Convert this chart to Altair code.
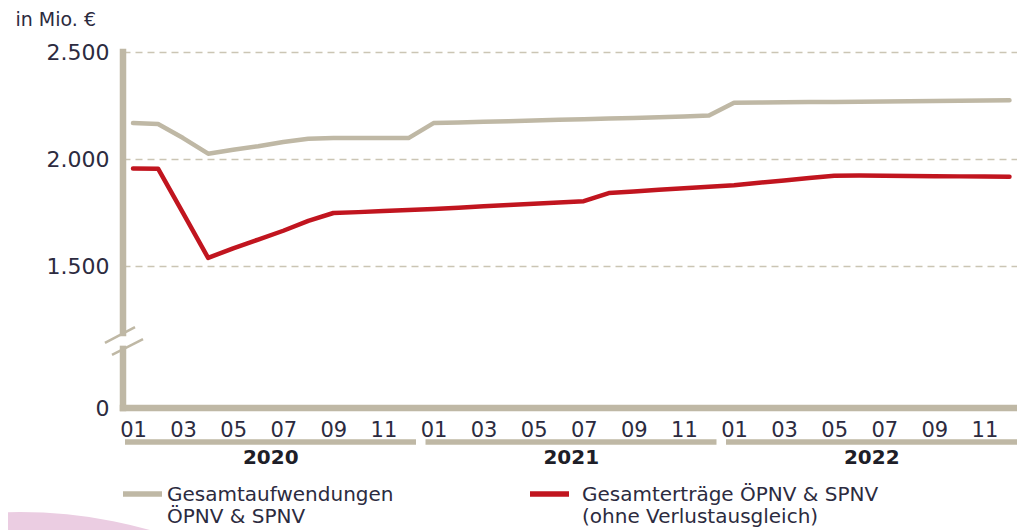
import altair as alt
import pandas as pd

# ---------------- data ----------------
years = ["2020", "2021", "2022"]
month_labels = ["01", "02", "03", "04", "05", "06", "07", "08", "09", "10", "11", "12"]

# Gesamtaufwendungen ÖPNV & SPNV (Mio. €), monthly 2020-01 .. 2022-12
aufwendungen = [
    2168, 2164, 2098, 2025, 2043, 2060, 2080, 2095, 2098, 2098, 2098, 2098,
    2168, 2171, 2174, 2177, 2180, 2183, 2186, 2189, 2192, 2195, 2199, 2203,
    2263, 2264, 2265, 2266, 2267, 2268, 2269, 2270, 2271, 2272, 2273, 2275,
]
# Gesamterträge ÖPNV & SPNV (ohne Verlustausgleich)
ertraege = [
    1956, 1955, 1747, 1538, 1583, 1624, 1665, 1711, 1748, 1752, 1757, 1762,
    1767, 1773, 1779, 1785, 1791, 1797, 1803, 1841, 1848, 1856, 1864, 1871,
    1878, 1889, 1900, 1911, 1922, 1923, 1922, 1921, 1920, 1919, 1918, 1917,
]
series_keys = ["aufw", "ertr"]
series_names = ["Gesamtaufwendungen\nÖPNV & SPNV",
                "Gesamterträge ÖPNV & SPNV\n(ohne Verlustausgleich)"]
y_ticks = [0, 1500, 2000, 2500]

# ---------------- styles ----------------
GRAY = "#bfb8a5"
RED = "#c1151f"
TEXT = "#2c2b40"
FONT = "DejaVu Sans"
W, H = 894, 356
X_DOM = [-0.4, 35.3]
Y_ZERO = 837            # position of the "0" below the axis break
Y_DOM = [Y_ZERO, 2500]

rows = []
for key, vals in zip(series_keys, [aufwendungen, ertraege]):
    for i, v in enumerate(vals):
        rows.append({"i": i, "s": key, "v": v})
df = pd.DataFrame(rows)

xscale = alt.Scale(domain=X_DOM, nice=False, zero=False)
yscale = alt.Scale(domain=Y_DOM, nice=False, zero=False)

month_arr = "[" + ",".join(f"'{m}'" for m in month_labels) + "]"
tick_vals = [Y_ZERO if t == 0 else t for t in y_ticks]

x_axis = alt.Axis(
    values=list(range(0, 36, 2)), labelExpr=f"{month_arr}[datum.value % 12]",
    grid=False, domain=False, ticks=False, title=None,
    labelFont=FONT, labelFontSize=21, labelColor=TEXT, labelPadding=11,
    labelFlush=False,
)
y_axis = alt.Axis(
    values=tick_vals,
    labelExpr=f"datum.value <= {Y_ZERO} ? '0' : replace(format(datum.value, ','), ',', '.')",
    grid=True, gridDash=[7, 5], gridColor="#cbc5b4", gridWidth=1.5,
    domain=False, ticks=False,
    labelFont=FONT, labelFontSize=22, labelColor=TEXT, labelPadding=14,
    title="in Mio. €", titleAngle=0, titleAlign="left", titleBaseline="alphabetic",
    titleX=-108, titleY=-27, titleFont=FONT, titleFontSize=19,
    titleFontWeight="normal", titleColor=TEXT,
)

# decorative pink disc in the lower-left corner
deco = alt.Chart(pd.DataFrame({"d": [0]})).mark_arc(
    color="#ebcde2", radius=478, theta=0, theta2=6.2832).encode(
    x=alt.value(-103), y=alt.value(938))

lines = alt.Chart(df).mark_line(strokeWidth=4.5, interpolate="linear",
                                strokeJoin="round", strokeCap="round").encode(
    x=alt.X("i:Q", scale=xscale, axis=x_axis),
    y=alt.Y("v:Q", scale=yscale, axis=y_axis),
    color=alt.Color("s:N", scale=alt.Scale(domain=series_keys, range=[GRAY, RED]), legend=None),
)

# axis lines with break
vseg = pd.DataFrame({"x": [X_DOM[0], X_DOM[0]], "y": [2500, 1113], "y2": [1187, Y_ZERO]})
vaxis = alt.Chart(vseg).mark_rule(color=GRAY, strokeWidth=6.5, strokeCap="square").encode(
    x=alt.X("x:Q", scale=xscale), y=alt.Y("y:Q", scale=yscale), y2="y2:Q")
hseg = pd.DataFrame({"x": [X_DOM[0]], "x2": [X_DOM[1]], "y": [Y_ZERO]})
haxis = alt.Chart(hseg).mark_rule(color=GRAY, strokeWidth=6.5, strokeCap="square").encode(
    x=alt.X("x:Q", scale=xscale), x2="x2:Q", y=alt.Y("y:Q", scale=yscale))
slashes = pd.DataFrame({"x": [-1.12, -0.84], "x2": [0.08, 0.40],
                        "y": [1141, 1085], "y2": [1215, 1159]})
brk = alt.Chart(slashes).mark_rule(color=GRAY, strokeWidth=2.5).encode(
    x=alt.X("x:Q", scale=xscale), x2="x2:Q",
    y=alt.Y("y:Q", scale=yscale), y2="y2:Q")

# year bars and labels
ydf = pd.DataFrame({
    "year": years,
    "x": [k * 12 - 0.32 for k in range(len(years))],
    "x2": [min(k * 12 + 11.3, X_DOM[1]) for k in range(len(years))],
    "xc": [k * 12 + 5.5 for k in range(len(years))],
})
ybars = alt.Chart(ydf).mark_rule(color=GRAY, strokeWidth=5.5).encode(
    x=alt.X("x:Q", scale=xscale), x2="x2:Q", y=alt.value(H + 34))
ytext = alt.Chart(ydf).mark_text(font=FONT, fontSize=20, fontWeight="bold",
                                 color="#1e1e28", baseline="middle").encode(
    x=alt.X("xc:Q", scale=xscale), y=alt.value(H + 50), text="year:N")

# legend
ldf = pd.DataFrame({"s": series_keys, "name": series_names})
leg_parts = []
for idx, (lx, tx) in enumerate([(0, 44), (407, 459)]):
    sub = ldf.iloc[[idx]]
    col = [GRAY, RED][idx]
    leg_parts.append(alt.Chart(sub).mark_rule(color=col, strokeWidth=5.5).encode(
        x=alt.value(lx), x2=alt.value(lx + 39), y=alt.value(H + 86)))
    leg_parts.append(alt.Chart(sub).mark_text(
        font=FONT, fontSize=20, color=TEXT, align="left", baseline="alphabetic",
        lineBreak="\n", lineHeight=22).encode(
        x=alt.value(tx), y=alt.value(H + 93), text="name:N"))

chart = alt.layer(deco, lines, brk, vaxis, haxis, ybars, ytext, *leg_parts).properties(
    width=W, height=H,
    autosize=alt.AutoSizeParams(type="none"),
    padding={"left": 115, "top": 44, "right": 0, "bottom": 122},
    background="white",
).configure_view(stroke=None)

chart.save("out.html", embed_options={"renderer": "svg", "actions": False})
